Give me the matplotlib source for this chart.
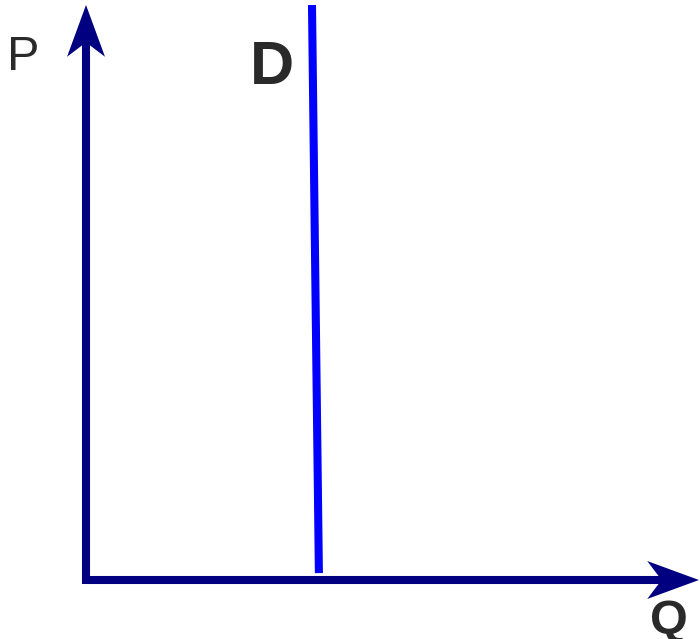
import matplotlib.pyplot as plt

plt.rcParams['font.family'] = ['Liberation Sans', 'DejaVu Sans']

# axis extents (data units: price and quantity)
p_max = 10.0
q_max = 10.66

# demand curve (nearly vertical)
demand_q = [4.05, 3.93]
demand_p = [0.12, 10.0]

axis_color = '#000080'
demand_color = '#0000ff'
text_color = '#2a2a2a'
lw = 5.8

fig = plt.figure(figsize=(7, 6.39), dpi=100)
ax = fig.add_axes([0, 0, 1, 1])
ax.set_xlim(-1.496, 10.678)
ax.set_ylim(-1.026, 10.087)
ax.axis('off')


def arrow_head(ax, tip, direction, length=0.9, half_w=0.33, notch=0.25):
    # stealth-style filled arrowhead pointing along direction
    tx, ty = tip
    dx, dy = direction
    px, py = -dy, dx
    bx, by = tx - dx * length, ty - dy * length
    nx, ny = tx - dx * (length - notch), ty - dy * (length - notch)
    xs = [tx, bx + px * half_w, nx, bx - px * half_w]
    ys = [ty, by + py * half_w, ny, by - py * half_w]
    ax.fill(xs, ys, color=axis_color, lw=0)
    return nx, ny


# price axis
nx, ny = arrow_head(ax, (0, p_max), (0, 1))
ax.plot([0, 0], [-0.07, ny], color=axis_color, lw=lw, solid_capstyle='butt')
# quantity axis
nx, ny = arrow_head(ax, (q_max, 0), (1, 0))
ax.plot([0, nx], [0, 0], color=axis_color, lw=lw, solid_capstyle='butt')

# demand
ax.plot(demand_q, demand_p, color=demand_color, lw=lw, solid_capstyle='butt')

ax.text(-1.37, 9.08, 'P', fontsize=35, color=text_color, va='center', ha='left')
ax.text(2.85, 8.9, 'D', fontsize=44, fontweight='bold', color=text_color,
        va='center', ha='left')
ax.text(9.8, -0.72, 'Q', fontsize=35, fontweight='bold', color=text_color,
        va='center', ha='left', clip_on=False)

fig.savefig('out.png', dpi=100, facecolor='white')
